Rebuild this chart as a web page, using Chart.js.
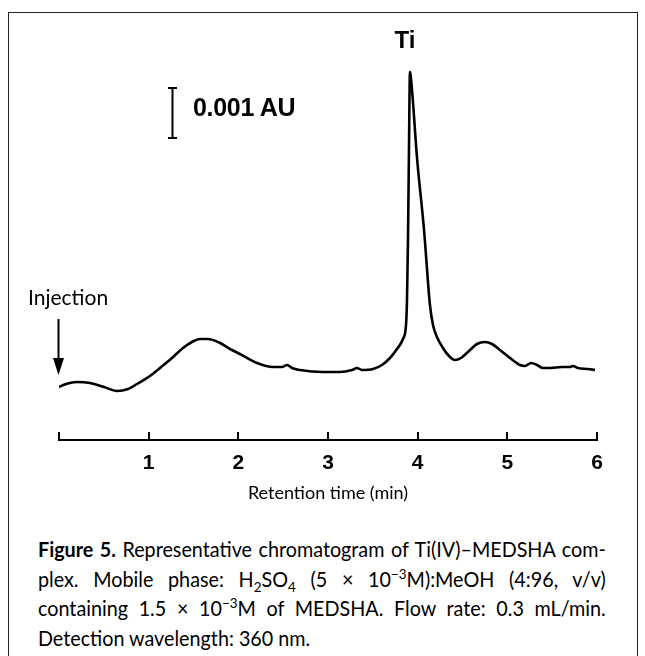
<!DOCTYPE html>
<html>
<head>
<meta charset="utf-8">
<script src="https://cdn.jsdelivr.net/npm/chart.js@4.4.1/dist/chart.umd.min.js"></script>
<style>
  html, body { margin:0; padding:0; background:#fff; }
  body { width:645px; height:656px; position:relative; overflow:hidden; }
  #frame { position:absolute; left:8px; top:12px; width:630px; height:660px;
           border:1.5px solid #222; box-sizing:border-box; }
  #wrap { position:absolute; left:0; top:0; width:645px; height:515px; }
  .lbl { position:absolute; color:#000; white-space:nowrap; }
  #ti { left:380px; top:28px; width:50px; text-align:center;
        font:bold 24px "Liberation Sans", Arial, sans-serif; line-height:24px; }
  #au { left:193px; top:95px; font:bold 25px "Liberation Sans", Arial, sans-serif; line-height:25px; letter-spacing:-0.3px; }
  #inj { left:28px; top:286px; font:21px Lato, sans-serif; line-height:21px; }
  #cap { position:absolute; left:38px; width:604px; top:534px;
         font:21px Lato, sans-serif; line-height:29.5px; color:#000;
         transform:scaleX(0.94); transform-origin:0 0; }
  #cap div { text-align:justify; text-align-last:justify; white-space:nowrap; }
  #cap div.last { text-align-last:left; }
  sub, sup { font-size:0.68em; line-height:0; }
</style>
</head>
<body>
<div id="frame"></div>
<div id="wrap"><canvas id="c" width="645" height="515"></canvas></div>
<div class="lbl" id="ti">Ti</div>
<div class="lbl" id="au">0.001 AU</div>
<div class="lbl" id="inj">Injection</div>
<div id="cap">
  <div><b>Figure 5.</b> Representative chromatogram of Ti(IV)–MEDSHA com-</div>
  <div>plex. Mobile phase: H<sub>2</sub>SO<sub>4</sub> (5 × 10<sup>−3</sup>M):MeOH (4:96, v/v)</div>
  <div>containing 1.5 × 10<sup>−3</sup>M of MEDSHA. Flow rate: 0.3 mL/min.</div>
  <div class="last">Detection wavelength: 360 nm.</div>
</div>
<script>
// Retention time (min)
const times = [0, 0.078, 0.201, 0.346, 0.502, 0.647, 0.770, 0.870, 1.015, 1.126,
  1.260, 1.383, 1.483, 1.572, 1.662, 1.796, 1.907, 2.018, 2.208, 2.387,
  2.487, 2.543, 2.598, 2.688, 2.944, 3.134, 3.268, 3.323, 3.379, 3.502,
  3.602, 3.691, 3.769, 3.836, 3.870, 3.881, 3.892, 3.903, 3.914, 3.937,
  3.992, 4.071, 4.137, 4.171, 4.215, 4.282, 4.349, 4.416, 4.483, 4.561,
  4.662, 4.751, 4.829, 4.918, 5.030, 5.141, 5.197, 5.264, 5.331, 5.398,
  5.476, 5.609, 5.699, 5.732, 5.788, 5.899, 5.977];
// Absorbance (AU)
const absorbance = [0.00106, 0.00112, 0.00116, 0.00114, 0.00106, 0.00098, 0.00102, 0.00112, 0.00128, 0.00144,
  0.00164, 0.00184, 0.00196, 0.00202, 0.00202, 0.00194, 0.00182, 0.00172, 0.00154, 0.00146,
  0.00146, 0.00150, 0.00144, 0.00140, 0.00136, 0.00136, 0.00140, 0.00144, 0.00140, 0.00142,
  0.00150, 0.00164, 0.00182, 0.00202, 0.00230, 0.00280, 0.00400, 0.00580, 0.00736, 0.00700,
  0.00566, 0.00420, 0.00270, 0.00230, 0.00206, 0.00184, 0.00168, 0.00160, 0.00164, 0.00176,
  0.00192, 0.00196, 0.00192, 0.00180, 0.00164, 0.00150, 0.00148, 0.00154, 0.00150, 0.00144,
  0.00144, 0.00146, 0.00146, 0.00148, 0.00144, 0.00142, 0.00140];
const tickValues = [0, 1, 2, 3, 4, 5, 6];
const tickLabels = ['', '1', '2', '3', '4', '5', '6'];
const scaleBarTime = 1.26;      // min
const scaleBarFrom = 0.00604;   // AU
const scaleBarSize = 0.001;     // AU
const injectionTime = 0;

const points = times.map((t, i) => ({x: t, y: absorbance[i]}));

const decor = {
  id: 'decor',
  afterDraw(chart) {
    const ctx = chart.ctx, xs = chart.scales.x, ys = chart.scales.y;
    ctx.save();
    ctx.strokeStyle = '#000'; ctx.fillStyle = '#000';
    // upward tick marks
    ctx.lineWidth = 2;
    tickValues.forEach(v => {
      const px = Math.round(xs.getPixelForValue(v));
      ctx.beginPath(); ctx.moveTo(px, xs.top); ctx.lineTo(px, xs.top - 8); ctx.stroke();
    });
    // scale bar
    const bx = Math.round(xs.getPixelForValue(scaleBarTime)) + 0.5;
    const by1 = ys.getPixelForValue(scaleBarFrom), by2 = ys.getPixelForValue(scaleBarFrom + scaleBarSize);
    ctx.lineWidth = 2;
    ctx.beginPath(); ctx.moveTo(bx, by1); ctx.lineTo(bx, by2); ctx.stroke();
    ctx.beginPath(); ctx.moveTo(bx - 4.5, by1); ctx.lineTo(bx + 4.5, by1);
    ctx.moveTo(bx - 4.5, by2); ctx.lineTo(bx + 4.5, by2); ctx.stroke();
    // injection arrow
    const ax = Math.round(xs.getPixelForValue(injectionTime)) - 0.5;
    const tip = ys.getPixelForValue(absorbance[0]) - 12;
    ctx.lineWidth = 2;
    ctx.beginPath(); ctx.moveTo(ax, tip - 56); ctx.lineTo(ax, tip - 12); ctx.stroke();
    ctx.beginPath(); ctx.moveTo(ax - 5.5, tip - 17); ctx.lineTo(ax + 5.5, tip - 17); ctx.lineTo(ax, tip); ctx.closePath(); ctx.fill();
    ctx.restore();
  }
};

new Chart(document.getElementById('c'), {
  type: 'line',
  data: { datasets: [{
    data: points,
    borderColor: '#000',
    borderWidth: 2.6,
    pointRadius: 0,
    fill: false,
    cubicInterpolationMode: 'monotone'
  }]},
  options: {
    responsive: false,
    animation: false,
    devicePixelRatio: 1,
    layout: { padding: { left: 59, right: 48, top: 40, bottom: 0 } },
    plugins: { legend: { display: false }, tooltip: { enabled: false } },
    scales: {
      x: {
        type: 'linear', min: 0, max: 6,
        afterBuildTicks: s => { s.ticks = tickValues.map(v => ({value: v})); },
        afterFit: s => { s.height = 75; },
        grid: { display: false, drawTicks: false },
        border: { display: true, color: '#000', width: 2 },
        ticks: {
          padding: 11, color: '#000', maxRotation: 0, autoSkip: false,
          font: { family: '"Liberation Sans", Arial, sans-serif', size: 21, weight: 'bold' },
          callback: (v, i) => tickLabels[tickValues.indexOf(v)] ?? ''
        },
        title: { display: true, text: 'Retention time (min)', color: '#000',
          font: { family: 'Lato, sans-serif', size: 18 }, padding: { top: 0, bottom: 11 } }
      },
      y: { type: 'linear', min: 0, max: 0.008, display: false }
    }
  },
  plugins: [decor]
});
</script>
</body>
</html>
